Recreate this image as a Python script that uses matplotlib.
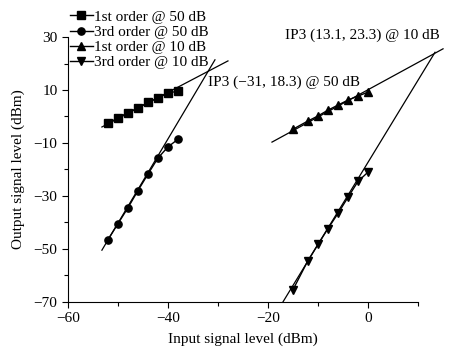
import numpy as np
from matplotlib import pyplot as plt

plt.rcParams["font.family"] = ["Liberation Serif", "DejaVu Serif"]

# Measured points, input level (dBm) -> output level (dBm)
x_50 = [-52, -50, -48, -46, -44, -42, -40, -38]
first_50 = [-2.5, -0.6, 1.5, 3.2, 5.3, 7.0, 8.8, 9.6]
third_50 = [-46.5, -40.5, -34.5, -28.0, -21.8, -15.7, -11.5, -8.6]

x_10 = [-15, -12, -10, -8, -6, -4, -2, 0]
first_10 = [-4.8, -1.7, 0.2, 2.4, 4.3, 6.2, 7.7, 9.2]
third_10 = [-65.4, -54.4, -48.3, -42.3, -36.6, -30.5, -24.5, -21.0]

# Fitted lines: slope, intercept, x range
fit_slope = [0.99, 3.18, 1.03, 3.1]
fit_icpt = [48.7, 118.7, 10.1, -17.3]
fit_xrange = [(-53.2, -28), (-53.2, -30.6), (-19.2, 15), (-17, 13.4)]

labels = ["1st order @ 50 dB", "3rd order @ 50 dB", "1st order @ 10 dB", "3rd order @ 10 dB"]
ip3_text = ["IP3 (\u221231, 18.3) @ 50 dB", "IP3 (13.1, 23.3) @ 10 dB"]

fig = plt.figure(figsize=(4.65, 3.56), dpi=100)
ax = fig.add_axes([0.146, 0.152, 0.753, 0.744])

series = [(x_50, first_50, "s"), (x_50, third_50, "o"), (x_10, first_10, "^"), (x_10, third_10, "v")]
for (xs, ys, m), lab in zip(series, labels):
    ax.plot(xs, ys, "-", marker=m, color="black", markersize=5.2, lw=1.0, label=lab, clip_on=False)

for k, b, (x0, x1) in zip(fit_slope, fit_icpt, fit_xrange):
    xx = np.array([x0, x1])
    ax.plot(xx, k * xx + b, color="black", lw=0.9, clip_on=False)

ax.text(-32, 13, ip3_text[0], fontsize=11, ha="left", va="center")
ax.text(-16.6, 30.6, ip3_text[1], fontsize=11, ha="left", va="center")

ax.set_xlim(-60, 10)
ax.set_ylim(-70, 30)
ax.set_xticks([-60, -40, -20, 0])
ax.set_xticks([-50, -30, -10, 10], minor=True)
ax.set_yticks([-70, -50, -30, -10, 10, 30])
ax.set_yticks([-60, -40, -20, 0, 20], minor=True)
ax.set_xticklabels(["\u221260", "\u221240", "\u221220", "0"])
ax.set_yticklabels(["\u221270", "\u221250", "\u221230", "\u221210", "10", "30"])
ax.tick_params(direction="out", labelsize=11, length=4, width=0.8)
ax.tick_params(which="minor", direction="out", length=3, width=0.8)
ax.spines["top"].set_visible(False)
ax.spines["right"].set_visible(False)
ax.set_xlabel("Input signal level (dBm)", fontsize=11, labelpad=5)
ax.set_ylabel("Output signal level (dBm)", fontsize=11, labelpad=6)

ax.legend(loc="upper left", bbox_to_anchor=(70 / 465, 1 - 10 / 356), bbox_transform=fig.transFigure,
          frameon=False, fontsize=11, borderpad=0, borderaxespad=0, handlelength=1.5,
          handletextpad=0.05, labelspacing=0.1)

fig.savefig("out.png", dpi=100)
